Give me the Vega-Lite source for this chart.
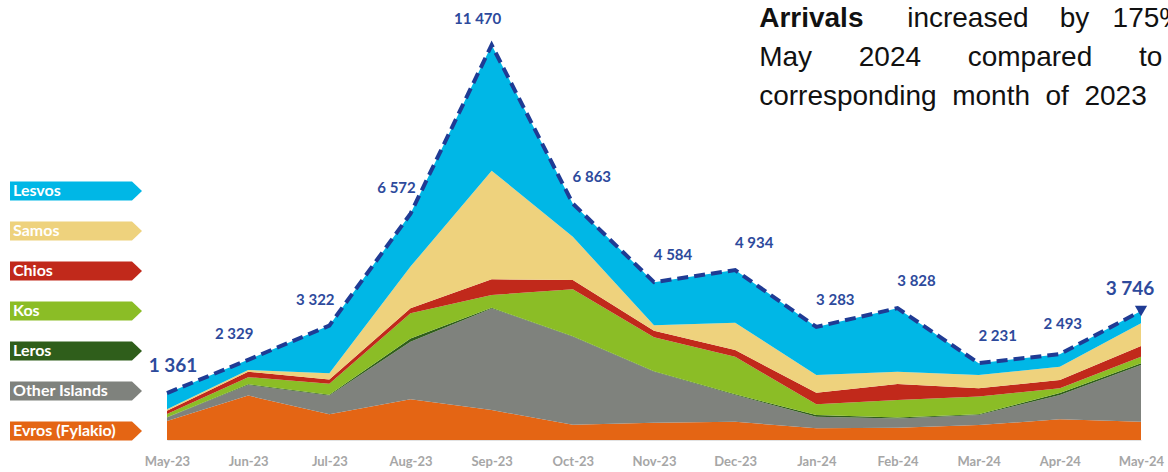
{
  "$schema": "https://vega.github.io/schema/vega-lite/v6.json",
  "width": 974,
  "height": 440,
  "autosize": {"type": "none"},
  "padding": {"left": 167, "top": 0, "right": 27, "bottom": 32},
  "background": "white",
  "datasets": {
    "arrivals": [
      {"month": "May-23", "region": "Evros (Fylakio)", "value": 550},
      {"month": "Jun-23", "region": "Evros (Fylakio)", "value": 1290},
      {"month": "Jul-23", "region": "Evros (Fylakio)", "value": 750},
      {"month": "Aug-23", "region": "Evros (Fylakio)", "value": 1180},
      {"month": "Sep-23", "region": "Evros (Fylakio)", "value": 870},
      {"month": "Oct-23", "region": "Evros (Fylakio)", "value": 440},
      {"month": "Nov-23", "region": "Evros (Fylakio)", "value": 500},
      {"month": "Dec-23", "region": "Evros (Fylakio)", "value": 530},
      {"month": "Jan-24", "region": "Evros (Fylakio)", "value": 340},
      {"month": "Feb-24", "region": "Evros (Fylakio)", "value": 355},
      {"month": "Mar-24", "region": "Evros (Fylakio)", "value": 435},
      {"month": "Apr-24", "region": "Evros (Fylakio)", "value": 600},
      {"month": "May-24", "region": "Evros (Fylakio)", "value": 530},
      {"month": "May-23", "region": "Other Islands", "value": 100},
      {"month": "Jun-23", "region": "Other Islands", "value": 310},
      {"month": "Jul-23", "region": "Other Islands", "value": 540},
      {"month": "Aug-23", "region": "Other Islands", "value": 1670},
      {"month": "Sep-23", "region": "Other Islands", "value": 2950},
      {"month": "Oct-23", "region": "Other Islands", "value": 2560},
      {"month": "Nov-23", "region": "Other Islands", "value": 1480},
      {"month": "Dec-23", "region": "Other Islands", "value": 775},
      {"month": "Jan-24", "region": "Other Islands", "value": 335},
      {"month": "Feb-24", "region": "Other Islands", "value": 270},
      {"month": "Mar-24", "region": "Other Islands", "value": 290},
      {"month": "Apr-24", "region": "Other Islands", "value": 705},
      {"month": "May-24", "region": "Other Islands", "value": 1645},
      {"month": "May-23", "region": "Leros", "value": 10},
      {"month": "Jun-23", "region": "Leros", "value": 20},
      {"month": "Jul-23", "region": "Leros", "value": 25},
      {"month": "Aug-23", "region": "Leros", "value": 100},
      {"month": "Sep-23", "region": "Leros", "value": 20},
      {"month": "Oct-23", "region": "Leros", "value": 15},
      {"month": "Nov-23", "region": "Leros", "value": 15},
      {"month": "Dec-23", "region": "Leros", "value": 20},
      {"month": "Jan-24", "region": "Leros", "value": 50},
      {"month": "Feb-24", "region": "Leros", "value": 30},
      {"month": "Mar-24", "region": "Leros", "value": 20},
      {"month": "Apr-24", "region": "Leros", "value": 60},
      {"month": "May-24", "region": "Leros", "value": 50},
      {"month": "May-23", "region": "Kos", "value": 95},
      {"month": "Jun-23", "region": "Kos", "value": 205},
      {"month": "Jul-23", "region": "Kos", "value": 320},
      {"month": "Aug-23", "region": "Kos", "value": 730},
      {"month": "Sep-23", "region": "Kos", "value": 370},
      {"month": "Oct-23", "region": "Kos", "value": 1360},
      {"month": "Nov-23", "region": "Kos", "value": 985},
      {"month": "Dec-23", "region": "Kos", "value": 1090},
      {"month": "Jan-24", "region": "Kos", "value": 310},
      {"month": "Feb-24", "region": "Kos", "value": 505},
      {"month": "Mar-24", "region": "Kos", "value": 515},
      {"month": "Apr-24", "region": "Kos", "value": 135},
      {"month": "May-24", "region": "Kos", "value": 195},
      {"month": "May-23", "region": "Chios", "value": 95},
      {"month": "Jun-23", "region": "Chios", "value": 160},
      {"month": "Jul-23", "region": "Chios", "value": 125},
      {"month": "Aug-23", "region": "Chios", "value": 145},
      {"month": "Sep-23", "region": "Chios", "value": 455},
      {"month": "Oct-23", "region": "Chios", "value": 270},
      {"month": "Nov-23", "region": "Chios", "value": 190},
      {"month": "Dec-23", "region": "Chios", "value": 195},
      {"month": "Jan-24", "region": "Chios", "value": 340},
      {"month": "Feb-24", "region": "Chios", "value": 465},
      {"month": "Mar-24", "region": "Chios", "value": 240},
      {"month": "Apr-24", "region": "Chios", "value": 240},
      {"month": "May-24", "region": "Chios", "value": 310},
      {"month": "May-23", "region": "Samos", "value": 40},
      {"month": "Jun-23", "region": "Samos", "value": 50},
      {"month": "Jul-23", "region": "Samos", "value": 180},
      {"month": "Aug-23", "region": "Samos", "value": 1210},
      {"month": "Sep-23", "region": "Samos", "value": 3155},
      {"month": "Oct-23", "region": "Samos", "value": 1255},
      {"month": "Nov-23", "region": "Samos", "value": 165},
      {"month": "Dec-23", "region": "Samos", "value": 795},
      {"month": "Jan-24", "region": "Samos", "value": 515},
      {"month": "Feb-24", "region": "Samos", "value": 360},
      {"month": "Mar-24", "region": "Samos", "value": 385},
      {"month": "Apr-24", "region": "Samos", "value": 390},
      {"month": "May-24", "region": "Samos", "value": 660},
      {"month": "May-23", "region": "Lesvos", "value": 471},
      {"month": "Jun-23", "region": "Lesvos", "value": 294},
      {"month": "Jul-23", "region": "Lesvos", "value": 1382},
      {"month": "Aug-23", "region": "Lesvos", "value": 1537},
      {"month": "Sep-23", "region": "Lesvos", "value": 3650},
      {"month": "Oct-23", "region": "Lesvos", "value": 963},
      {"month": "Nov-23", "region": "Lesvos", "value": 1249},
      {"month": "Dec-23", "region": "Lesvos", "value": 1529},
      {"month": "Jan-24", "region": "Lesvos", "value": 1393},
      {"month": "Feb-24", "region": "Lesvos", "value": 1843},
      {"month": "Mar-24", "region": "Lesvos", "value": 346},
      {"month": "Apr-24", "region": "Lesvos", "value": 363},
      {"month": "May-24", "region": "Lesvos", "value": 356}
    ],
    "totals": [
      {"month": "May-23", "total": 1361},
      {"month": "Jun-23", "total": 2329},
      {"month": "Jul-23", "total": 3322},
      {"month": "Aug-23", "total": 6572},
      {"month": "Sep-23", "total": 11470},
      {"month": "Oct-23", "total": 6863},
      {"month": "Nov-23", "total": 4584},
      {"month": "Dec-23", "total": 4934},
      {"month": "Jan-24", "total": 3283},
      {"month": "Feb-24", "total": 3828},
      {"month": "Mar-24", "total": 2231},
      {"month": "Apr-24", "total": 2493},
      {"month": "May-24", "total": 3746}
    ]
  },
  "layer": [
    {
      "data": {"name": "arrivals"},
      "transform": [
        {"calculate": "indexof(['Lesvos','Samos','Chios','Kos','Leros','Other Islands','Evros (Fylakio)'], datum.region)", "as": "stackIdx"}
      ],
      "mark": {"type": "area", "opacity": 1, "strokeWidth": 0},
      "encoding": {
        "x": {
          "field": "month", "type": "ordinal",
          "scale": {"type": "point", "padding": 0, "domain": ["May-23","Jun-23","Jul-23","Aug-23","Sep-23","Oct-23","Nov-23","Dec-23","Jan-24","Feb-24","Mar-24","Apr-24","May-24"]},
          "axis": {"title": null, "labelAngle": 0, "labelFont": "Lato", "labelFontSize": 13, "labelFontWeight": "bold", "labelColor": "#a6a6a6", "ticks": false, "domainColor": "#e3e3e3", "domainWidth": 1, "labelPadding": 15, "grid": false}
        },
        "y": {
          "field": "value", "type": "quantitative", "aggregate": "sum", "stack": "zero",
          "scale": {"domain": [0, 12776], "nice": false, "zero": true},
          "axis": null
        },
        "color": {
          "field": "region", "type": "nominal",
          "scale": {
            "domain": ["Lesvos","Samos","Chios","Kos","Leros","Other Islands","Evros (Fylakio)"],
            "range": ["#00b7e6","#eed27d","#c1291b","#8bbd26","#2f5e1b","#7f827d","#e46514"]
          },
          "legend": {
            "orient": "none", "legendX": -101, "legendY": 181, "title": null,
            "symbolType": "M-6.6,-0.95L5.6,-0.95L6.6,0L5.6,0.95L-6.6,0.95Z",
            "symbolSize": 400, "symbolStrokeWidth": 0, "symbolOpacity": 1,
            "rowPadding": 20, "padding": 0,
            "labelColor": "white", "labelFont": "Lato", "labelFontWeight": "bold", "labelFontSize": 16,
            "labelOffset": -73, "labelLimit": 200
          }
        },
        "order": {"field": "stackIdx", "sort": "descending"}
      }
    },
    {
      "data": {"name": "totals"},
      "mark": {"type": "line", "strokeDash": [11, 6], "strokeWidth": 4, "color": "#1f3b94"},
      "encoding": {
        "x": {"field": "month", "type": "ordinal"},
        "y": {"field": "total", "type": "quantitative"}
      }
    },
    {
      "data": {"name": "totals"},
      "transform": [{"filter": "datum.month === 'May-24'"}],
      "mark": {"type": "point", "shape": "triangle-down", "filled": true, "size": 150, "color": "#1f3b94", "opacity": 1},
      "encoding": {
        "x": {"field": "month", "type": "ordinal"},
        "y": {"field": "total", "type": "quantitative"}
      }
    },
    {
      "data": {"name": "totals"},
      "transform": [{"filter": {"field": "month", "oneOf": ["Jun-23","Jul-23","Aug-23","Sep-23"]}}],
      "mark": {"type": "text", "font": "Lato", "fontWeight": "bold", "fontSize": 15, "color": "#2d4a9c", "baseline": "middle", "dy": -26, "dx": -14},
      "encoding": {
        "x": {"field": "month", "type": "ordinal"},
        "y": {"field": "total", "type": "quantitative"},
        "text": {"field": "total", "type": "quantitative", "format": ","}
      }
    },
    {
      "data": {"name": "totals"},
      "transform": [{"filter": {"field": "month", "oneOf": ["Oct-23","Nov-23","Dec-23","Jan-24","Feb-24","Mar-24"]}}],
      "mark": {"type": "text", "font": "Lato", "fontWeight": "bold", "fontSize": 15, "color": "#2d4a9c", "baseline": "middle", "dy": -27, "dx": 19},
      "encoding": {
        "x": {"field": "month", "type": "ordinal"},
        "y": {"field": "total", "type": "quantitative"},
        "text": {"field": "total", "type": "quantitative", "format": ","}
      }
    },
    {
      "data": {"name": "totals"},
      "transform": [{"filter": {"field": "month", "oneOf": ["Apr-24"]}}],
      "mark": {"type": "text", "font": "Lato", "fontWeight": "bold", "fontSize": 15, "color": "#2d4a9c", "baseline": "middle", "dy": -30, "dx": 3},
      "encoding": {
        "x": {"field": "month", "type": "ordinal"},
        "y": {"field": "total", "type": "quantitative"},
        "text": {"field": "total", "type": "quantitative", "format": ","}
      }
    },
    {
      "data": {"name": "totals"},
      "transform": [{"filter": {"field": "month", "oneOf": ["May-23"]}}],
      "mark": {"type": "text", "font": "Lato", "fontWeight": "bold", "fontSize": 19, "color": "#2d4a9c", "baseline": "middle", "dy": -27, "dx": 6},
      "encoding": {
        "x": {"field": "month", "type": "ordinal"},
        "y": {"field": "total", "type": "quantitative"},
        "text": {"field": "total", "type": "quantitative", "format": ","}
      }
    },
    {
      "data": {"name": "totals"},
      "transform": [{"filter": {"field": "month", "oneOf": ["May-24"]}}],
      "mark": {"type": "text", "font": "Lato", "fontWeight": "bold", "fontSize": 19, "color": "#2d4a9c", "baseline": "middle", "dy": -22, "dx": -11},
      "encoding": {
        "x": {"field": "month", "type": "ordinal"},
        "y": {"field": "total", "type": "quantitative"},
        "text": {"field": "total", "type": "quantitative", "format": ","}
      }
    },
    {
      "data": {"values": [{}]},
      "mark": {"type": "text", "text": "Arrivals", "font": "Liberation Sans", "fontWeight": "bold", "fontSize": 28, "color": "#111111", "align": "left", "baseline": "alphabetic", "dx": 24},
      "encoding": {
        "x": {"datum": "Dec-23", "type": "ordinal"},
        "y": {"datum": 11992, "type": "quantitative"}
      }
    },
    {
      "data": {"values": [{}]},
      "mark": {"type": "text", "text": "increased\u00a0\u00a0\u00a0\u00a0by\u00a0\u00a0\u00a0175%\u00a0\u00a0in", "font": "Liberation Sans", "fontSize": 28, "color": "#111111", "align": "left", "baseline": "alphabetic", "dx": 172},
      "encoding": {
        "x": {"datum": "Dec-23", "type": "ordinal"},
        "y": {"datum": 11992, "type": "quantitative"}
      }
    },
    {
      "data": {"values": [{}]},
      "mark": {"type": "text", "text": "May\u00a0\u00a0\u00a0\u00a0\u00a0\u00a02024\u00a0\u00a0\u00a0\u00a0\u00a0\u00a0compared\u00a0\u00a0\u00a0\u00a0\u00a0\u00a0to\u00a0\u00a0\u00a0the", "font": "Liberation Sans", "fontSize": 28, "color": "#111111", "align": "left", "baseline": "alphabetic", "dx": 24},
      "encoding": {
        "x": {"datum": "Dec-23", "type": "ordinal"},
        "y": {"datum": 10860, "type": "quantitative"}
      }
    },
    {
      "data": {"values": [{}]},
      "mark": {"type": "text", "text": "corresponding\u00a0\u00a0month\u00a0\u00a0of\u00a0\u00a02023", "font": "Liberation Sans", "fontSize": 28, "color": "#111111", "align": "left", "baseline": "alphabetic", "dx": 24},
      "encoding": {
        "x": {"datum": "Dec-23", "type": "ordinal"},
        "y": {"datum": 9727, "type": "quantitative"}
      }
    }
  ],
  "config": {
    "view": {"stroke": null},
    "locale": {"number": {"decimal": ".", "thousands": " ", "grouping": [3], "currency": ["", ""]}}
  }
}
